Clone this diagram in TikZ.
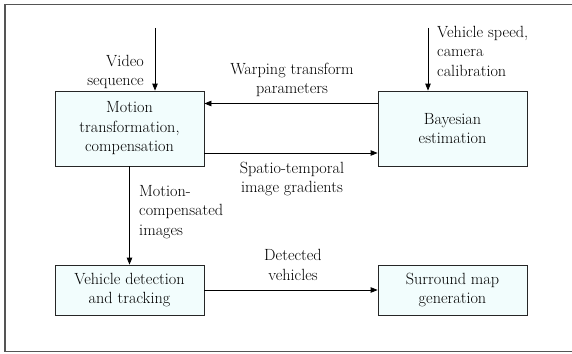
\documentclass[tikz,border=0pt]{standalone}
\usetikzlibrary{arrows.meta}
\definecolor{boxfill}{RGB}{242,253,253}
\definecolor{framegray}{RGB}{85,85,85}
\begin{document}
\begin{tikzpicture}[x=1pt,y=-1pt,
  every node/.style={font=\rmfamily\fontsize{16.2}{19.5}\selectfont},
  blockbox/.style={draw=black!85, line width=0.8pt, fill=boxfill, minimum width=149pt, align=center, inner sep=0pt},
  topbox/.style={blockbox, minimum height=75pt},
  lowbox/.style={blockbox, minimum height=50pt},
  lbl/.style={inner sep=0pt},
  flow/.style={line width=0.8pt, -{Triangle[length=7pt,width=5.5pt]}}
]
\useasboundingbox (0,0) rectangle (572,353);
\draw[framegray, line width=1.1pt] (573,4.5) -- (5,4.5) -- (5,351.5) -- (573,351.5);

\node[topbox] (mot) at (129.5,128.5) {Motion\\transformation,\\compensation};
\node[topbox] (bay) at (452.5,128.5) {Bayesian\\estimation};
\node[lowbox] (veh) at (129.5,290) {Vehicle detection\\and tracking};
\node[lowbox] (sur) at (452.5,290) {Surround map\\generation};

\coordinate (vin) at (155,28);
\coordinate (sin) at (428,28);
\draw[flow] (vin) -- (vin |- mot.north);
\draw[flow] (sin) -- (sin |- bay.north);
\draw[flow] (bay.west |- 0,103.5) -- (mot.east |- 0,103.5);
\draw[flow] (mot.east |- 0,153) -- (bay.west |- 0,153);
\draw[flow] (mot.south) -- (veh.north);
\draw[flow] (veh.east) -- (sur.west);

\node[lbl, anchor=east, align=right] (lv) at (144,72) {Video\\sequence};
\node[lbl, anchor=west, align=left] (ls) at (437,51) {Vehicle speed,\\camera\\calibration};
\node[lbl, align=center] (lw) at (292,80) {Warping transform\\parameters};
\node[lbl, align=center] (lg) at (292,179) {Spatio-temporal\\image gradients};
\node[lbl, anchor=west, align=left] (lm) at (139,212) {Motion-\\compensated\\images};
\node[lbl, align=center] (ld) at (293,265) {Detected\\vehicles};
\end{tikzpicture}
\end{document}
